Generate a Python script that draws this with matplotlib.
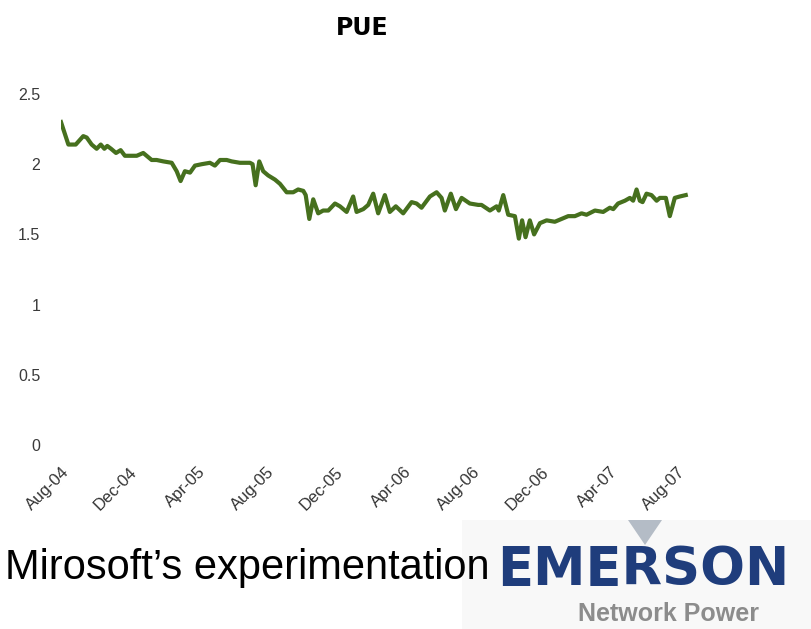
import matplotlib
matplotlib.use("Agg")
import matplotlib.pyplot as plt
from matplotlib.patches import Rectangle, Polygon

plt.rcParams['font.family'] = ['Liberation Sans', 'DejaVu Sans']

# months since Aug-2004
months = [0.00, 0.43, 0.86, 1.30, 1.50, 1.79, 2.08, 2.32, 2.53, 2.70, 2.92, 3.21, 3.48, 3.73,
          4.42, 4.80, 5.29, 5.58, 5.97, 6.46, 6.75, 6.98, 7.23, 7.53, 7.82, 8.21, 8.69, 8.98,
          9.28, 9.67, 9.96, 10.44, 11.03, 11.18, 11.36, 11.57, 11.80, 12.09, 12.49, 12.78,
          13.17, 13.55, 13.84, 14.14, 14.28, 14.49, 14.72, 15.01, 15.30, 15.60, 15.99, 16.28,
          16.67, 17.05, 17.25, 17.64, 17.93, 18.22, 18.51, 18.90, 19.19, 19.54, 19.97, 20.46,
          20.75, 21.04, 21.53, 21.92, 22.21, 22.40, 22.75, 23.05, 23.38, 23.86, 24.35, 24.54,
          25.03, 25.42, 25.55, 25.81, 26.10, 26.49, 26.72, 26.91, 27.11, 27.36, 27.61, 27.95,
          28.34, 28.82, 29.21, 29.60, 29.99, 30.38, 30.67, 31.16, 31.64, 32.03, 32.23, 32.51,
          32.91, 33.20, 33.39, 33.59, 33.78, 33.94, 34.17, 34.46, 34.76, 34.95, 35.30, 35.53,
          35.82, 36.11, 36.46]
pue = [2.30, 2.14, 2.14, 2.20, 2.19, 2.14, 2.11, 2.14, 2.11, 2.13, 2.11, 2.08, 2.10, 2.06,
       2.06, 2.08, 2.03, 2.03, 2.02, 2.01, 1.95, 1.88, 1.95, 1.94, 1.99, 2.00, 2.01, 1.99,
       2.03, 2.03, 2.02, 2.01, 2.01, 2.00, 1.85, 2.02, 1.95, 1.92, 1.89, 1.86,
       1.80, 1.80, 1.82, 1.81, 1.78, 1.61, 1.75, 1.65, 1.67, 1.67, 1.72, 1.70,
       1.66, 1.77, 1.66, 1.68, 1.71, 1.79, 1.65, 1.78, 1.66, 1.70, 1.65, 1.73,
       1.72, 1.69, 1.77, 1.80, 1.76, 1.67, 1.79, 1.68, 1.76, 1.72, 1.71, 1.71,
       1.67, 1.70, 1.67, 1.78, 1.64, 1.63, 1.47, 1.60, 1.48, 1.60, 1.50, 1.58,
       1.60, 1.59, 1.61, 1.63, 1.63, 1.65, 1.64, 1.67, 1.66, 1.69, 1.68, 1.72,
       1.74, 1.76, 1.74, 1.82, 1.74, 1.73, 1.79, 1.78, 1.74, 1.76, 1.76, 1.63,
       1.76, 1.77, 1.78]

tick_months = [0, 4, 8, 12, 16, 20, 24, 28, 32, 36]
tick_labels = ["Aug-04", "Dec-04", "Apr-05", "Aug-05", "Dec-05", "Apr-06",
               "Aug-06", "Dec-06", "Apr-07", "Aug-07"]
y_ticks = [0, 0.5, 1, 1.5, 2, 2.5]
y_labels = ["0", "0.5", "1", "1.5", "2", "2.5"]

W, H = 811, 629
fig = plt.figure(figsize=(W / 100, H / 100), dpi=100)

# faint background behind logo
fig.patches.append(Rectangle((462 / W, 0), (W - 462) / W, (H - 520) / H,
                             transform=fig.transFigure, facecolor="#f8f8f8",
                             edgecolor="none", zorder=0))

ax = fig.add_axes([61 / W, (H - 445) / H, 634 / W, 351 / H])
ax.plot(months, pue, color="#46701e", linewidth=3.0, solid_joinstyle="round")
ax.set_xlim(0, 37)
ax.set_ylim(0, 2.5)
ax.set_yticks(y_ticks)
ax.set_yticklabels(y_labels, fontsize=11.5, color="#3a3a3a")
ax.set_xticks(tick_months)
ax.set_xticklabels(tick_labels, fontsize=12, color="#333333", rotation=45,
                   ha="right", va="top", rotation_mode="anchor")
ax.tick_params(axis="both", length=0)
ax.tick_params(axis="y", pad=15)
ax.tick_params(axis="x", pad=14)
for s in ax.spines.values():
    s.set_visible(False)
ax.patch.set_alpha(0)

fig.text(362 / W, 1 - 28 / H, "PUE", fontsize=17, fontweight="bold",
         family=["DejaVu Sans"], ha="center", va="center", color="black")

fig.text(5 / W, 1 - 568 / H, "Mirosoft\u2019s experimentation", fontsize=30,
         ha="left", va="center", color="black", zorder=5)

fig.text(643 / W, 1 - 570 / H, "EMERSON", fontsize=38, fontweight="bold",
         family=["DejaVu Sans"], ha="center", va="center", color="#1f3d7c", zorder=3)
fig.text(669 / W, 1 - 614 / H, "Network Power", fontsize=18, fontweight="bold",
         ha="center", va="center", color="#8c8c8c")
fig.patches.append(Polygon([(628 / W, 1 - 520 / H), (662 / W, 1 - 520 / H),
                            (645 / W, 1 - 545 / H)], closed=True,
                           transform=fig.transFigure, facecolor="#b4bcc6",
                           edgecolor="none", zorder=2))

fig.savefig("out.png", dpi=100)
